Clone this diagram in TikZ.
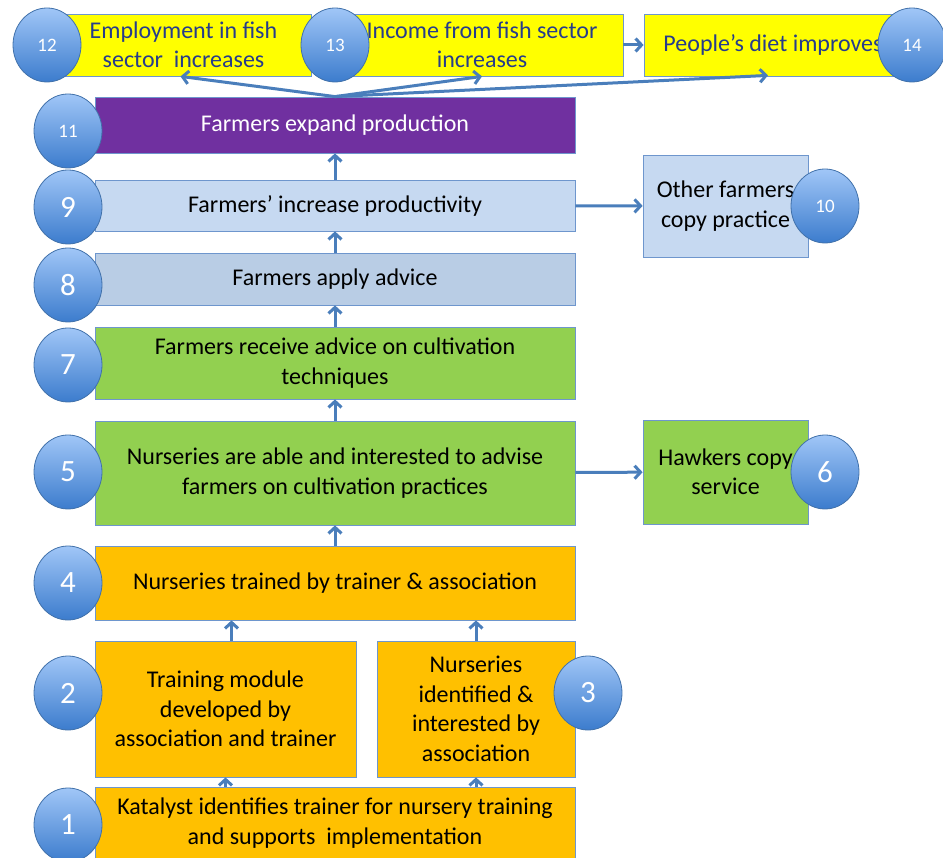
\documentclass[tikz,border=0pt]{standalone}
\usepackage{fontspec}
\setmainfont{Carlito}
\usetikzlibrary{arrows.meta,shapes.geometric}
\definecolor{flowblue}{RGB}{74,126,187}
\definecolor{boxline}{RGB}{110,150,205}
\definecolor{numline}{RGB}{65,113,170}
\definecolor{numtop}{RGB}{160,198,247}
\definecolor{numbottom}{RGB}{60,124,205}
\definecolor{fishyellow}{RGB}{255,255,0}
\definecolor{topblue}{RGB}{38,60,140}
\definecolor{expandpurple}{RGB}{112,48,160}
\definecolor{palblue}{RGB}{198,217,241}
\definecolor{applyblue}{RGB}{185,205,229}
\definecolor{advgreen}{RGB}{146,208,80}
\definecolor{trainorange}{RGB}{255,192,0}

\begin{document}
\begin{tikzpicture}[x=1pt,y=-1pt,
    box/.style={draw=boxline, line width=0.8pt, align=center, inner sep=0pt,
      font=\fontsize{24}{29.5}\selectfont},
    num/.style={ellipse, draw=numline, line width=0.8pt, top color=numtop,
      bottom color=numbottom, minimum width=68pt, minimum height=74pt,
      inner sep=0pt, text=white, font=\fontsize{31}{31}\selectfont},
    smallnum/.style={font=\fontsize{19}{19}\selectfont},
    flow/.style={draw=flowblue, line width=3pt,
      -{Straight Barb[length=6pt,width=13pt]}}]
    \useasboundingbox (0,0) rectangle (943,858);

    % outcomes
    \node[box, fill=fishyellow, text=topblue, minimum width=255pt, minimum height=62pt]
      (b12) at (183.5,45) {Employment in fish\\sector\ \ increases};
    \node[box, fill=fishyellow, text=topblue, minimum width=282pt, minimum height=62pt]
      (b13) at (482,45) {Income from fish sector\\increases};
    \node[box, fill=fishyellow, text=topblue, minimum width=258pt, minimum height=62pt]
      (b14) at (773,45) {People’s diet improves};
    \node[box, fill=expandpurple, text=white, minimum width=480pt, minimum height=56pt]
      (b11) at (335,125) {Farmers expand production};
    \node[box, fill=palblue, minimum width=480pt, minimum height=51pt]
      (b9) at (335,205.5) {Farmers’ increase productivity};
    \node[box, fill=palblue, minimum width=165pt, minimum height=102pt]
      (b10) at (725.5,206) {Other farmers\\copy practice};
    \node[box, fill=applyblue, minimum width=480pt, minimum height=52pt]
      (b8) at (335,279) {Farmers apply advice};
    \node[box, fill=advgreen, minimum width=480pt, minimum height=72pt]
      (b7) at (335,363) {Farmers receive advice on cultivation\\techniques};
    \node[box, fill=advgreen, minimum width=480pt, minimum height=104pt]
      (b5) at (335,473) {Nurseries are able and interested to advise\\farmers on cultivation practices};
    \node[box, fill=advgreen, minimum width=165pt, minimum height=104pt]
      (b6) at (725.5,472) {Hawkers copy\\service};
    % interventions
    \node[box, fill=trainorange, minimum width=480pt, minimum height=74pt]
      (b4) at (335,583) {Nurseries trained by trainer \& association};
    \node[box, fill=trainorange, minimum width=261pt, minimum height=136pt]
      (b2) at (225.5,709) {Training module\\developed by\\association and trainer};
    \node[box, fill=trainorange, minimum width=198pt, minimum height=136pt]
      (b3) at (476,709) {Nurseries\\identified \&\\interested by\\association};
    \node[box, fill=trainorange, minimum width=480pt, minimum height=72pt]
      (b1) at (335,823) {Katalyst identifies trainer for nursery training\\and supports\ \ implementation};

    \draw[flow] (b1.north -| b2) -- (b2.south);
    \draw[flow] (b1.north -| b3) -- (b3.south);
    \draw[flow] ([xshift=6pt]b2.north) -- ([xshift=6pt]b2.north |- b4.south);
    \draw[flow] (b3.north) -- (b3.north |- b4.south);
    \draw[flow] (b4) -- (b5);
    \draw[flow] (b5) -- (b7);
    \draw[flow] (b7) -- (b8);
    \draw[flow] (b8) -- (b9);
    \draw[flow] (b9) -- (b11);
    \draw[flow] (b5) -- (b6);
    \draw[flow] (b9) -- (b10);
    \draw[flow] (b13) -- (b14);
    \coordinate (fan) at (b11.north);
    \draw[flow] (fan) -- ([xshift=-3pt]b12.south);
    \draw[flow] (fan) -- (b13.south);
    \draw[flow] (fan) -- ([xshift=-5pt,yshift=1pt]b14.south);

    % step numbers
    \node[num] (c1) at (68,825) {1};
    \node[num] (c2) at (68,693) {2};
    \node[num] (c3) at (588,693) {3};
    \node[num] (c4) at (68,583) {4};
    \node[num] (c5) at (68,472) {5};
    \node[num] (c6) at (825,472) {6};
    \node[num] (c7) at (68,365) {7};
    \node[num] (c8) at (68,285) {8};
    \node[num] (c9) at (68,207) {9};
    \node[num, smallnum] (c10) at (825,206) {10};
    \node[num, smallnum] (c11) at (68,131) {11};
    \node[num, smallnum] (c12) at (47,45) {12};
    \node[num, smallnum] (c13) at (335,45) {13};
    \node[num, smallnum] (c14) at (912,45) {14};
\end{tikzpicture}
\end{document}
